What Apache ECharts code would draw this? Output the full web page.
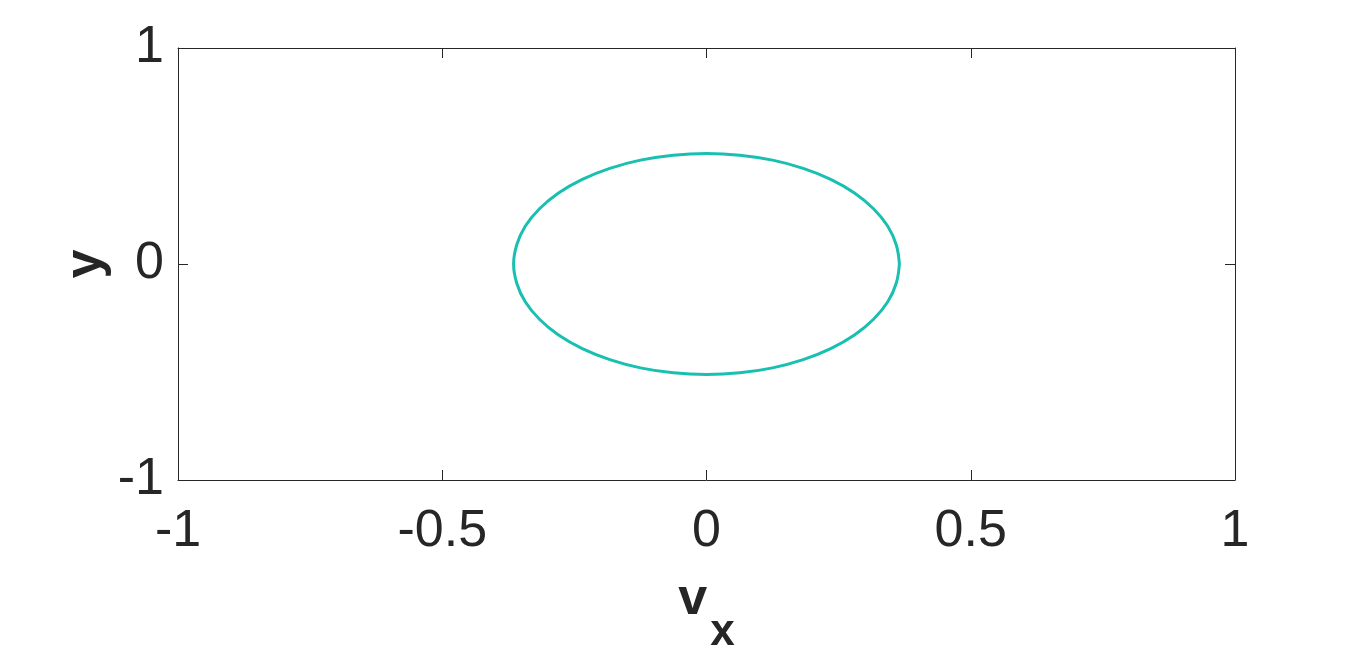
<!DOCTYPE html>
<html>
<head>
<meta charset="utf-8">
<style>html,body{margin:0;padding:0;background:#fff}#c{width:1366px;height:651px}</style>
<script src="https://cdn.jsdelivr.net/npm/echarts@6/dist/echarts.min.js"></script>
</head>
<body>
<div id="c"></div>
<script>
// Curve points (closed loop)
var vxValues = [0.365,0.359,0.343,0.316,0.280,0.235,0.183,0.125,0.063,0,
  -0.063,-0.125,-0.183,-0.235,-0.280,-0.316,-0.343,-0.359,-0.365,
  -0.359,-0.343,-0.316,-0.280,-0.235,-0.183,-0.125,-0.063,0,
  0.063,0.125,0.183,0.235,0.280,0.316,0.343,0.359,0.365];
var yValues = [0,0.089,0.175,0.256,0.329,0.392,0.443,0.481,0.504,0.512,
  0.504,0.481,0.443,0.392,0.329,0.256,0.175,0.089,0,
  -0.089,-0.175,-0.256,-0.329,-0.392,-0.443,-0.481,-0.504,-0.512,
  -0.504,-0.481,-0.443,-0.392,-0.329,-0.256,-0.175,-0.089,0];
var xTicks = [-1, -0.5, 0, 0.5, 1];
var yTicks = [-1, 0, 1];

var font = '"Liberation Sans", Arial, Helvetica, sans-serif';
var ink = '#262626';
var pts = vxValues.map(function (v, i) { return [v, yValues[i]]; });

var chart = echarts.init(document.getElementById('c'));
function axisBase(ticks) {
  return {
    type: 'value', min: ticks[0], max: ticks[ticks.length - 1],
    interval: ticks[1] - ticks[0],
    splitLine: { show: false },
    axisLine: { show: true, onZero: false, lineStyle: { color: ink, width: 1 } },
    axisTick: { show: true, inside: true, length: 10, lineStyle: { color: ink, width: 1 } }
  };
}
var xMain = axisBase(xTicks);
xMain.position = 'bottom';
xMain.axisLabel = { color: ink, fontFamily: font, fontSize: 52, margin: 26 };
xMain.name = '{b|v}{s|x}';
xMain.nameLocation = 'middle';
xMain.nameGap = 65;
xMain.nameMoveOverlap = false;
xMain.nameTextStyle = {
  rich: {
    b: { fontFamily: font, fontWeight: 'bold', fontSize: 52, color: ink, padding: [0, 3, 0, 0] },
    s: { fontFamily: font, fontWeight: 'bold', fontSize: 44, color: ink, padding: [66, 0, 0, 0] }
  }
};
var xTop = axisBase(xTicks);
xTop.position = 'top';
xTop.axisLabel = { show: false };

var yMain = axisBase(yTicks);
yMain.position = 'left';
yMain.axisLabel = { color: ink, fontFamily: font, fontSize: 52, margin: 14, padding: [28, 0, 0, 0] };
yMain.name = 'y';
yMain.nameLocation = 'middle';
yMain.nameGap = 66;
yMain.nameMoveOverlap = false;
yMain.nameTextStyle = { fontFamily: font, fontWeight: 'bold', fontSize: 52, color: ink };
var yRight = axisBase(yTicks);
yRight.position = 'right';
yRight.axisLabel = { show: false };

chart.setOption({
  animation: false,
  backgroundColor: '#ffffff',
  grid: { left: 178, right: 131, top: 48, bottom: 171, containLabel: false, outerBoundsMode: 'none' },
  xAxis: [xMain, xTop],
  yAxis: [yMain, yRight],
  series: [{
    type: 'line', xAxisIndex: 0, yAxisIndex: 0,
    data: pts, smooth: 0.4, showSymbol: false, symbol: 'none',
    lineStyle: { color: '#19bfb0', width: 3 }
  }]
});
</script>
</body>
</html>
